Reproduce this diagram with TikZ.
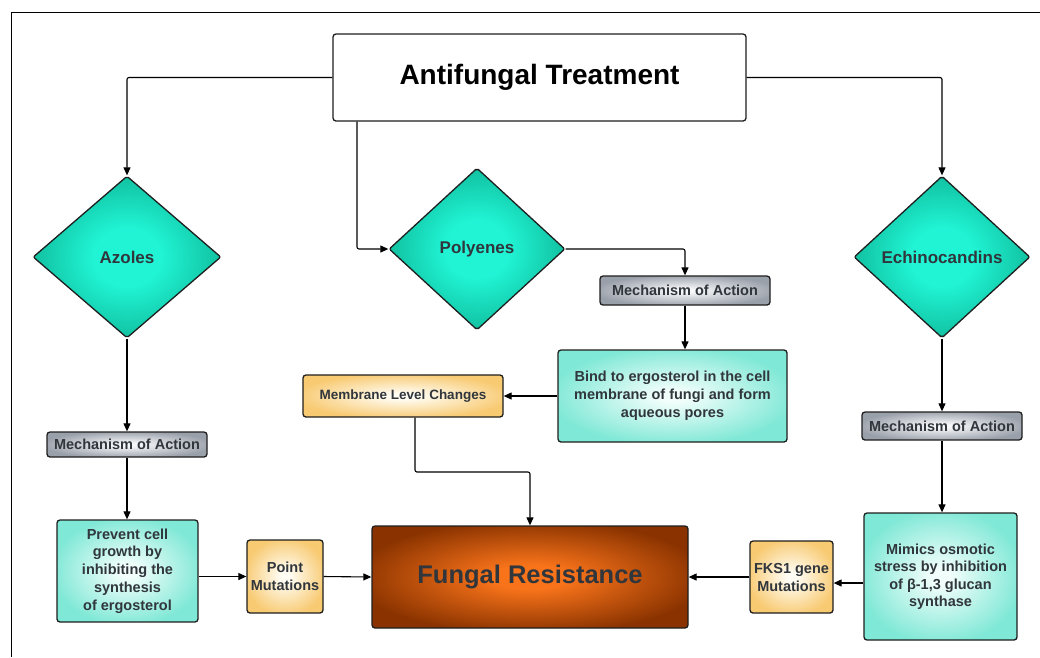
\documentclass[tikz,border=0pt]{standalone}
\usepackage{fontspec}
\setmainfont{Liberation Sans}
\usetikzlibrary{shapes.geometric,arrows.meta}
\definecolor{txt}{HTML}{30363C}
\definecolor{edge}{HTML}{1E1E1E}
\definecolor{tealin}{HTML}{F2FEFB}
\definecolor{tealout}{HTML}{7FE8D6}
\definecolor{yelin}{HTML}{FFFDF4}
\definecolor{yelout}{HTML}{F8CA72}
\definecolor{grayin}{HTML}{F7F8FA}
\definecolor{grayout}{HTML}{9AA0AA}
\definecolor{orin}{HTML}{F8731A}
\definecolor{orout}{HTML}{8A3300}
\definecolor{diain}{HTML}{20F4D4}
\definecolor{diaout}{HTML}{10BE9E}
\pgfdeclareradialshading{tealshade}{\pgfpoint{0bp}{0bp}}{color(0bp)=(tealin); color(3bp)=(tealin); color(27bp)=(tealout); color(50bp)=(tealout)}
\pgfdeclareradialshading{yelshade}{\pgfpoint{0bp}{0bp}}{color(0bp)=(yelin); color(3bp)=(yelin); color(27bp)=(yelout); color(50bp)=(yelout)}
\pgfdeclareradialshading{grayshade}{\pgfpoint{0bp}{0bp}}{color(0bp)=(grayin); color(3bp)=(grayin); color(27bp)=(grayout); color(50bp)=(grayout)}
\pgfdeclareradialshading{orshade}{\pgfpoint{0bp}{0bp}}{color(0bp)=(orin); color(6bp)=(orin); color(28bp)=(orout); color(50bp)=(orout)}
\pgfdeclareradialshading{diashade}{\pgfpoint{0bp}{0bp}}{color(0bp)=(diain); color(9bp)=(diain); color(26bp)=(diaout); color(50bp)=(diaout)}
\begin{document}
\begin{tikzpicture}[x=1pt,y=-1pt,
  box/.style={draw=edge, line width=1.3pt, rounded corners=3pt, inner sep=1pt,
    align=center, text=txt, font=\bfseries\fontsize{14.5}{17.8}\selectfont},
  tealbox/.style={box, shade, shading=tealshade},
  yelbox/.style={box, shade, shading=yelshade},
  mechbox/.style={box, shade, shading=grayshade},
  drug/.style={diamond, draw=edge, line width=1.3pt, rounded corners=2pt, inner sep=0pt,
    shade, shading=diashade, text=txt,
    font=\bfseries\fontsize{17}{20}\selectfont},
  conn/.style={draw=black, line width=1.1pt, rounded corners=2pt,
    -{Triangle[length=8pt,width=7pt]}}]
\useasboundingbox (0,0) rectangle (1040,657);
\draw[line width=1pt] (11,657) -- (11,12) -- (1040,12);

% nodes
\node[box, fill=white, minimum width=413pt, minimum height=87pt,
  text=black, font=\bfseries\fontsize{28}{32}\selectfont] (title) at (539.5,77.5) {Antifungal Treatment};

\node[drug, minimum width=188pt, minimum height=162pt] (azoles) at (127,257) {Azoles};
\node[drug, minimum width=176pt, minimum height=162pt] (poly) at (477,249) {Polyenes};
\node[drug, minimum width=176pt, minimum height=162pt] (echino) at (942,257) {Echinocandins};

\node[mechbox, minimum width=160pt, minimum height=25pt] (mech1) at (127,444.5) {Mechanism of Action};
\node[mechbox, minimum width=170pt, minimum height=29pt] (mech2) at (685,290.5) {Mechanism of Action};
\node[mechbox, minimum width=160pt, minimum height=28pt] (mech3) at (942,426) {Mechanism of Action};

\node[tealbox, minimum width=141pt, minimum height=102pt] (prevent) at (127.5,571)
  {Prevent cell\\growth by\\inhibiting the\\synthesis\\of ergosterol};
\node[tealbox, minimum width=229pt, minimum height=92pt, font=\bfseries\fontsize{14.5}{18}\selectfont] (bind) at (672.5,396)
  {Bind to ergosterol in the cell\\membrane of fungi and form\\aqueous pores};
\node[tealbox, minimum width=153pt, minimum height=127pt, font=\bfseries\fontsize{14.5}{17.5}\selectfont] (mimics) at (940.5,576.5)
  {Mimics osmotic\\stress by inhibition\\of β-1,3 glucan\\synthase};

\node[yelbox, minimum width=200pt, minimum height=42pt, font=\bfseries\fontsize{13.5}{16}\selectfont] (membrane) at (403,396) {Membrane Level Changes};
\node[yelbox, minimum width=76pt, minimum height=73pt, font=\bfseries\fontsize{14.5}{18}\selectfont] (point) at (285,576.5) {Point\\Mutations};
\node[yelbox, minimum width=83pt, minimum height=72pt, font=\bfseries\fontsize{14.5}{18}\selectfont] (fks) at (791.5,577) {FKS1 gene\\Mutations};

\node[box, shade, shading=orshade, minimum width=316pt, minimum height=102pt,
  text=txt, font=\bfseries\fontsize{25.5}{30}\selectfont] (fungal) at (530,577) {Fungal Resistance};

% helper coordinates
\coordinate (tp) at (357,121);
\coordinate (mc) at (415,472);
\coordinate (fy) at (0,583);

% connectors
\draw[conn] (title.west) -| (azoles.north);
\draw[conn] (title.east) -| (echino.north);
\draw[conn] (title.south -| tp) |- (poly.west);
\draw[conn] (poly.east) -| (mech2.north);
\draw[conn] (mech2.south) -- (mech2.south |- bind.north);
\draw[conn] (bind.west) -- (membrane.east);
\draw[conn] (membrane.south -| mc) -- (mc) -| (fungal.north);
\draw[conn] (azoles.south) -- (mech1.north);
\draw[conn] (mech1.south) -- (mech1.south |- prevent.north);
\draw[conn] (prevent.east |- point.west) -- (point.west);
\draw[conn] (point.east) -- (fungal.west);
\draw[conn] (echino.south) -- (mech3.north);
\draw[conn] (mech3.south) -- (mech3.south |- mimics.north);
\draw[conn] (mimics.west |- fy) -- (fks.east |- fy);
\draw[conn] (fks.west) -- (fungal.east);
\end{tikzpicture}
\end{document}
